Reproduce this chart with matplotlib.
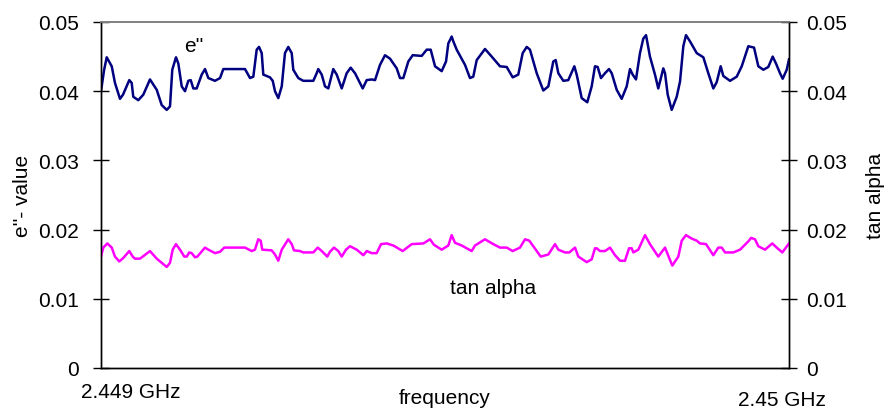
import matplotlib
matplotlib.use("Agg")
from matplotlib import pyplot as plt
import numpy as np

plt.rcParams['font.family'] = ['Liberation Sans', 'DejaVu Sans']

# frequency offset from 2.449 GHz, in kHz
eps_khz = [0, 4.4, 8.3, 15.6, 20.3, 27.6, 32.0, 41.1, 44.6, 46.9, 54.2, 61.5, 71.2,
           81.0, 88.2, 95.5, 100.3, 103.6, 109.0, 112.4, 117.3, 122.1, 126.9, 130.4,
           134.2, 139.1, 146.4, 151.2, 156.0, 165.7, 173.0, 177.8, 209.3, 216.6,
           221.4, 226.3, 229.7, 233.6, 235.9, 245.6, 249.6, 252.9, 257.7, 262.7,
           267.4, 272.2, 277.2, 279.5, 286.8, 294.0, 308.6, 313.5, 315.8, 320.8,
           325.6, 330.4, 337.6, 342.6, 349.9, 357.1, 362.9, 369.2, 380.4, 386.2,
           393.5, 398.3, 405.5, 412.8, 420.1, 429.8, 434.6, 439.4, 446.7, 453.1,
           466.1, 473.4, 479.2, 485.5, 495.2, 501.5, 504.8, 509.7, 512.1, 517.0,
           529.1, 536.3, 541.1, 546.1, 558.1, 567.9, 579.9, 589.7, 598.4, 606.5,
           612.9, 618.8, 623.5, 633.3, 642.9, 650.2, 657.4, 660.9, 664.7, 672.0,
           679.2, 688.0, 691.4, 698.7, 706.8, 713.2, 718.0, 721.9, 726.7, 732.6,
           738.4, 742.3, 749.6, 756.8, 764.1, 768.9, 772.8, 777.6, 783.4, 788.2,
           792.2, 797.9, 805.2, 810.0, 817.3, 819.8, 823.7, 829.5, 836.8, 841.6,
           846.4, 850.3, 856.1, 865.9, 875.5, 882.7, 890.0, 894.9, 900.7, 904.5,
           914.3, 924.0, 931.3, 940.9, 949.2, 955.4, 962.7, 969.9, 976.3, 981.1,
           986.9, 990.8, 996.7, 1000]
eps_vals = [0.0400, 0.0430, 0.0449, 0.0436, 0.0412, 0.0389, 0.0395, 0.0416, 0.0412,
            0.0392, 0.0387, 0.0395, 0.0417, 0.0402, 0.0380, 0.0373, 0.0378, 0.0431,
            0.0449, 0.0440, 0.0407, 0.0400, 0.0415, 0.0416, 0.0404, 0.0404, 0.0424,
            0.0432, 0.0419, 0.0415, 0.0419, 0.0432, 0.0432, 0.0419, 0.0421, 0.0460,
            0.0464, 0.0455, 0.0424, 0.0420, 0.0415, 0.0400, 0.0390, 0.0407, 0.0455,
            0.0464, 0.0455, 0.0431, 0.0419, 0.0415, 0.0415, 0.0426, 0.0432, 0.0424,
            0.0407, 0.0404, 0.0432, 0.0424, 0.0404, 0.0426, 0.0434, 0.0426, 0.0404,
            0.0416, 0.0417, 0.0416, 0.0438, 0.0452, 0.0447, 0.0433, 0.0419, 0.0419,
            0.0443, 0.0452, 0.0451, 0.0460, 0.0460, 0.0436, 0.0429, 0.0443, 0.0469,
            0.0479, 0.0472, 0.0460, 0.0438, 0.0419, 0.0421, 0.0445, 0.0461, 0.0450,
            0.0436, 0.0435, 0.0420, 0.0424, 0.0455, 0.0464, 0.0460, 0.0426, 0.0401,
            0.0407, 0.0443, 0.0445, 0.0426, 0.0415, 0.0416, 0.0436, 0.0424, 0.0390,
            0.0384, 0.0407, 0.0436, 0.0435, 0.0419, 0.0426, 0.0432, 0.0426, 0.0402,
            0.0389, 0.0407, 0.0432, 0.0424, 0.0417, 0.0455, 0.0476, 0.0481, 0.0450,
            0.0424, 0.0404, 0.0433, 0.0426, 0.0395, 0.0373, 0.0392, 0.0414, 0.0465,
            0.0481, 0.0472, 0.0455, 0.0449, 0.0426, 0.0404, 0.0413, 0.0436, 0.0422,
            0.0415, 0.0421, 0.0436, 0.0465, 0.0463, 0.0436, 0.0431, 0.0435, 0.0450,
            0.0440, 0.0426, 0.0418, 0.0431, 0.0446]

tan_khz = [0, 3.3, 9.2, 15.6, 20.3, 26.6, 32.4, 41.1, 46.1, 49.4, 56.7, 71.2, 81.0,
           95.5, 100.3, 104.2, 109.0, 114.8, 121.1, 124.6, 128.3, 131.8, 136.6,
           140.0, 151.2, 156.0, 165.7, 173.0, 179.2, 209.3, 219.0, 223.8, 228.6,
           232.1, 234.4, 248.1, 252.9, 257.7, 262.7, 272.2, 277.2, 280.5, 289.2,
           294.0, 308.6, 315.0, 320.8, 328.9, 332.8, 338.7, 344.9, 349.9, 356.1,
           361.9, 371.7, 381.3, 386.2, 393.5, 400.7, 407.0, 415.3, 424.9, 438.5,
           451.6, 468.5, 478.2, 484.0, 495.2, 504.8, 509.7, 514.5, 524.3, 538.8,
           543.6, 558.1, 570.2, 579.9, 589.7, 598.4, 609.0, 616.3, 622.5, 633.3,
           639.1, 650.2, 659.9, 664.7, 674.4, 680.7, 689.0, 693.8, 706.0, 713.2,
           718.0, 720.5, 725.3, 732.6, 739.8, 747.1, 754.4, 761.6, 767.5, 771.4,
           773.7, 781.0, 790.7, 797.9, 810.0, 819.8, 824.6, 830.4, 839.1, 844.1,
           850.3, 858.6, 865.9, 870.7, 879.4, 890.0, 897.3, 902.2, 907.0, 919.1,
           928.8, 940.9, 944.9, 950.6, 955.4, 965.1, 975.7, 982.1, 990.3, 1000]
tan_vals = [0.0161, 0.0174, 0.0180, 0.0174, 0.0161, 0.0154, 0.0159, 0.0169, 0.0161,
            0.0158, 0.0158, 0.0169, 0.0158, 0.0146, 0.0152, 0.0171, 0.0179, 0.0171,
            0.0161, 0.0161, 0.0167, 0.0166, 0.0160, 0.0161, 0.0174, 0.0171, 0.0166,
            0.0168, 0.0174, 0.0174, 0.0169, 0.0171, 0.0186, 0.0184, 0.0171, 0.0170,
            0.0164, 0.0155, 0.0171, 0.0186, 0.0179, 0.0170, 0.0169, 0.0167, 0.0167,
            0.0174, 0.0169, 0.0161, 0.0168, 0.0174, 0.0169, 0.0161, 0.0171, 0.0176,
            0.0171, 0.0163, 0.0169, 0.0166, 0.0166, 0.0179, 0.0180, 0.0177, 0.0169,
            0.0179, 0.0180, 0.0186, 0.0178, 0.0171, 0.0177, 0.0192, 0.0181, 0.0177,
            0.0169, 0.0177, 0.0186, 0.0179, 0.0174, 0.0174, 0.0169, 0.0174, 0.0186,
            0.0184, 0.0169, 0.0161, 0.0164, 0.0179, 0.0171, 0.0167, 0.0167, 0.0174,
            0.0161, 0.0153, 0.0157, 0.0173, 0.0173, 0.0169, 0.0169, 0.0174, 0.0163,
            0.0155, 0.0155, 0.0173, 0.0173, 0.0167, 0.0171, 0.0192, 0.0179, 0.0161,
            0.0174, 0.0162, 0.0148, 0.0161, 0.0184, 0.0192, 0.0187, 0.0184, 0.0180,
            0.0179, 0.0163, 0.0174, 0.0174, 0.0167, 0.0167, 0.0171, 0.0183, 0.0188,
            0.0186, 0.0176, 0.0171, 0.0180, 0.0174, 0.0167, 0.0180]

yticks = [0, 0.01, 0.02, 0.03, 0.04, 0.05]
ytick_labels = ['0', '0.01', '0.02', '0.03', '0.04', '0.05']
f_start_label = '2.449 GHz'
f_end_label = '2.45 GHz'

f0 = 2.449
eps_f = f0 + np.array(eps_khz) * 1e-6
tan_f = f0 + np.array(tan_khz) * 1e-6

fs = 15
fig = plt.figure(figsize=(8.88, 4.14), dpi=100)
ax = fig.add_axes([101/888, 45/414, 688/888, 346/414])
ax2 = ax.twinx()

ax.plot(eps_f, eps_vals, color='#000080', lw=1.8, solid_joinstyle='round')
ax2.plot(tan_f, tan_vals, color='#FF00FF', lw=1.8, solid_joinstyle='round')

for a, pad in ((ax, 10.5), (ax2, 7)):
    a.set_ylim(0, 0.05)
    a.set_xlim(f0, 2.450)
    a.set_yticks(yticks)
    a.set_yticklabels(ytick_labels)
    a.tick_params(axis='y', direction='inout', length=11, width=1,
                  labelsize=fs, pad=pad)
    a.spines['top'].set_color('#808080')
    a.spines['top'].set_linewidth(1.2)
    a.spines['left'].set_linewidth(1)
    a.spines['right'].set_linewidth(1)
    a.spines['bottom'].set_linewidth(1)

ax.set_xticks([])
ax.set_ylabel("e''- value", fontsize=fs)
ax.yaxis.set_label_coords(-0.100, 0.5)
ax2.set_ylabel('tan alpha', fontsize=fs)
ax2.yaxis.set_label_coords(1.112, 0.5)

ax.text(-0.0295, -0.040, f_start_label, transform=ax.transAxes,
        ha='left', va='top', fontsize=fs)
ax.text(0.990, -0.064, f_end_label, transform=ax.transAxes,
        ha='center', va='top', fontsize=fs)
ax.text(0.5, -0.058, 'frequency', transform=ax.transAxes,
        ha='center', va='top', fontsize=fs)

ax.text(0.135, 0.931, "e''", transform=ax.transAxes,
        ha='center', va='center', fontsize=fs)
ax.text(0.570, 0.234, 'tan alpha', transform=ax.transAxes,
        ha='center', va='center', fontsize=fs)

fig.savefig('out.png', dpi=100)
